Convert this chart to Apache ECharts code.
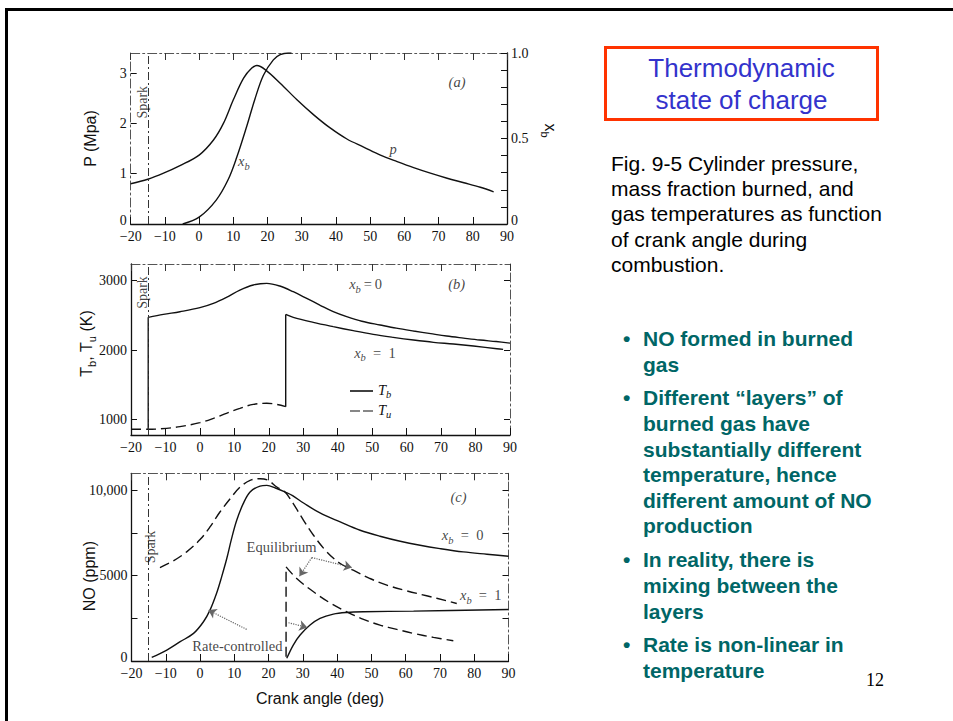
<!DOCTYPE html>
<html>
<head>
<meta charset="utf-8">
<title>NO formation – thermodynamic state of charge</title>
<script src="https://cdn.jsdelivr.net/npm/echarts@6.0.0/dist/echarts.min.js"></script>
<style>
  html, body { margin: 0; padding: 0; background: #fff; }
  #slide { position: relative; width: 953px; height: 721px; overflow: hidden; background: #fff;
           font-family: "Liberation Sans", Arial, sans-serif; }
  #chart { position: absolute; left: 0; top: 0; width: 953px; height: 721px; }
  .edge { position: absolute; left: 5px; top: 8px; width: 1000px; height: 800px;
          border-top: 3px solid #000; border-left: 3px solid #000; }
  .title { position: absolute; left: 604px; top: 46px; width: 269px; height: 66.5px; padding-top: 2.5px;
           border: 3px solid #ff3300; color: #3333cc; font-size: 26px; line-height: 32px; text-align: center; }
  .caption { position: absolute; left: 611px; top: 151px; font-size: 21px; line-height: 25.2px;
             color: #000; white-space: nowrap; }
  .bullets { position: absolute; left: 643px; top: 326px; font-size: 21px; font-weight: bold;
             line-height: 25.6px; color: #006666; white-space: nowrap; }
  .bullets p { margin: 0 0 8.3px 0; position: relative; }
  .bullets p::before { content: "\2022"; position: absolute; left: -20px; top: 0; }
  .pageno { position: absolute; right: 69px; top: 671px; line-height: 18px;
            font-family: "Liberation Serif", "Times New Roman", serif; font-size: 18px; color: #000; }
</style>
</head>
<body>
<div id="slide">
  <div id="chart"></div>
  <div class="edge"></div>
  <div class="title">Thermodynamic<br>state of charge</div>
  <div class="caption">Fig. 9-5 Cylinder pressure,<br>mass fraction burned, and<br>gas temperatures as function<br>of crank angle during<br>combustion.</div>
  <div class="bullets">
    <p>NO formed in burned<br>gas</p>
    <p>Different “layers” of<br>burned gas have<br>substantially different<br>temperature, hence<br>different amount of NO<br>production</p>
    <p>In reality, there is<br>mixing between the<br>layers</p>
    <p>Rate is non-linear in<br>temperature</p>
  </div>
  <div class="pageno">12</div>
</div>
<script>
// ---------------------------------------------------------------------------
// Crank angle (deg)
const angleTicks = [-20, -10, 0, 10, 20, 30, 40, 50, 60, 70, 80, 90];
const sparkAngle = -15;

// (a) cylinder pressure p (MPa)
const pAngle = [-20, -15, -10.4, -5.6, 0, 4.2, 7.1, 10, 13, 15.4, 16.9, 19.3, 23.7, 28.6,
                33.5, 38.3, 43.2, 48.1, 53, 57.9, 62.7, 67.6, 72.5, 77.4, 82.2, 86.1];
const pMpa   = [0.80, 0.89, 1.01, 1.16, 1.37, 1.67, 2.0, 2.47, 2.9, 3.1, 3.15, 3.07, 2.80, 2.47,
                2.17, 1.91, 1.69, 1.53, 1.37, 1.24, 1.12, 1.01, 0.91, 0.82, 0.73, 0.64];
const pTicks = [0, 1, 2, 3];

// (a) mass fraction burned x_b
const xbAngle = [-4.8, 0, 5, 8.5, 11, 13.9, 16.3, 18.8, 21.7, 23.7, 26, 27];
const xbValue = [0, 0.04, 0.14, 0.26, 0.39, 0.57, 0.73, 0.87, 0.96, 0.99, 1.0, 1.0];
const xbTicks = [0, 0.5, 1];
const xbTickMarks = [0, 0.1, 0.2, 0.3, 0.4, 0.5, 0.6, 0.7, 0.8, 0.9, 1];

// (b) unburned gas temperature T_u (K)
const tuAngle = [-20, -15, -9.7, -5.8, 0, 3.9, 7.7, 11.6, 15.5, 19.4, 22.3, 24.9];
const tuK     = [856, 856, 870, 894, 952, 1014, 1087, 1159, 1216, 1231, 1216, 1183];
// (b) burned gas temperature T_b of the element burned at spark (x_b = 0)
const tbFirstAngle = [-15, -10.6, -5.8, 0, 3.9, 7.7, 11.6, 15.5, 19.4, 23.2, 27.1, 31, 34.8,
                      38.7, 42.6, 47, 52.3, 57, 62, 67, 71.6, 76.5, 81.3, 86, 90];
const tbFirstK     = [2471, 2514, 2553, 2611, 2673, 2760, 2865, 2938, 2962, 2923, 2841, 2745, 2649,
                      2553, 2481, 2415, 2361, 2315, 2274, 2236, 2202, 2172, 2144, 2122, 2100];
// (b) burned gas temperature T_b of the last element burned (x_b = 1)
const tbLastAngle = [24.9, 27.1, 32.9, 38.7, 44.5, 50.3, 56.1, 62, 67.8, 73.6, 79.4, 86.2, 88];
const tbLastK     = [2514, 2471, 2399, 2337, 2279, 2226, 2183, 2144, 2111, 2087, 2058, 2019, 2010];
const tTicks = [1000, 2000, 3000];

// (c) NO, equilibrium, x_b = 0 (ppm)
const eqFirstAngle = [-11.7, -7.8, -3.9, 0, 2.9, 5.8, 8.8, 11.7, 14.6, 17.5, 19.9, 22.4, 24.8, 27.2,
                      30.2, 33.1, 37, 40.9, 44.7, 49.6, 54.5, 60.3, 66.1, 72, 74.9];
const eqFirstPpm   = [5478, 5867, 6394, 7115, 7856, 8733, 9513, 10195, 10585, 10682, 10585, 10195, 9903, 9220,
                      8246, 7368, 6394, 5712, 5322, 4834, 4444, 4113, 3821, 3528, 3372];
// (c) NO, equilibrium, x_b = 1 (ppm)
const eqLastAngle = [25.1, 25.1, 28.2, 33.1, 37.9, 42.8, 47.7, 52.5, 57.4, 62.3, 68.1, 73.9];
const eqLastPpm   = [250, 5517, 4834, 4055, 3411, 2885, 2437, 2105, 1852, 1618, 1384, 1189];
// (c) NO, rate-controlled, x_b = 0 (ppm)
const rcFirstAngle = [-14.1, -9.7, -5.8, -1.9, 1, 2.9, 4.8, 6.3, 7.8, 9.2, 10.7, 12.6, 14.6, 17.5,
                      19.5, 22, 24.8, 27, 30.2, 35, 40.9, 46.7, 52.5, 58.4, 64.2, 70, 76.8, 83.7, 90];
const rcFirstPpm   = [214, 643, 1131, 1618, 2300, 2982, 3957, 4932, 6004, 7173, 8246, 9220, 9903, 10253,
                      10292, 10140, 9903, 9690, 9259, 8674, 8148, 7661, 7310, 7018, 6784, 6589, 6394, 6257, 6140];
// (c) NO, rate-controlled, x_b = 1 (ppm)
const rcLastAngle = [25.3, 27.2, 29.2, 32.1, 35, 38.9, 42.8, 47.7, 62.3, 90];
const rcLastPpm   = [156, 936, 1520, 2105, 2495, 2749, 2846, 2885, 2924, 3021];
const noTicks = [0, 5000, 10000];
const noTickMarks = [0, 2500, 5000, 7500, 10000];

// ---------------------------------------------------------------------------
const SERIF = '"Liberation Serif", "Times New Roman", serif';
const SANS = '"Liberation Sans", Arial, sans-serif';
const INK = '#111';
const FAINT = '#555';
const DASHDOT = [9, 3, 2, 3];

const panels = [
  { left: 130.7, top: 53,    width: 376.3, height: 171,   yMin: 0,   yMax: 3.4 },
  { left: 131,   top: 264,   width: 379,   height: 171,   yMin: 774, yMax: 3241 },
  { left: 131.5, top: 473.3, width: 377,   height: 187.7, yMin: 0,   yMax: 11000 }
];

const RICH = {
  i:  { fontFamily: SERIF, fontStyle: 'italic', fontSize: 14.5, color: INK, lineHeight: 18, verticalAlign: 'bottom', padding: [0, 0, 3, 0] },
  s:  { fontFamily: SERIF, fontStyle: 'italic', fontSize: 10.5, color: INK, lineHeight: 18, verticalAlign: 'bottom' },
  r:  { fontFamily: SERIF, fontSize: 14.5, color: INK, lineHeight: 18, verticalAlign: 'bottom', padding: [0, 0, 3, 0] },
  t:  { fontFamily: SERIF, fontSize: 14.5, color: INK, lineHeight: 18 },
  sp: { fontFamily: SERIF, fontSize: 14, color: INK, lineHeight: 16 }
};
const NAME_RICH = {
  m: { fontFamily: SANS, fontSize: 16, color: INK, lineHeight: 20, verticalAlign: 'bottom', padding: [0, 0, 3, 0] },
  u: { fontFamily: SANS, fontSize: 11, color: INK, lineHeight: 20, verticalAlign: 'bottom' }
};
// tick label at the foot of a value axis sits a little above the axis line
const TICK_RICH = {
  z: { fontFamily: SERIF, fontSize: 14, color: INK, padding: [0, 0, 7, 0] }
};

const fmtAngle = v => (v < 0 ? '\u2212' + Math.abs(v) : String(v));
const pairs = (xs, ys) => xs.map((x, i) => [x, ys[i]]);

function lineStyleOf(kind) {
  if (kind === 'solid') return { color: INK, width: 1.3, type: 'solid' };
  return { color: FAINT, width: 1, type: DASHDOT };
}

function xAxesFor(g, withName) {
  const base = { type: 'value', gridIndex: g, min: -20, max: 90, interval: 10, splitLine: { show: false } };
  const bottom = Object.assign({}, base, {
    position: 'bottom',
    axisLine: { onZero: false, lineStyle: lineStyleOf('solid') },
    axisTick: { inside: true, length: 7, lineStyle: { color: INK, width: 1 } },
    axisLabel: { margin: 5, fontFamily: SERIF, fontSize: 14, color: INK, formatter: fmtAngle,
                 customValues: angleTicks }
  });
  if (withName) {
    Object.assign(bottom, {
      name: 'Crank angle (deg)', nameLocation: 'middle', nameGap: 29, nameMoveOverlap: false,
      nameTextStyle: { fontFamily: SANS, fontSize: 16, color: INK }
    });
  }
  const top = Object.assign({}, base, {
    position: 'top',
    axisLine: { onZero: false, lineStyle: lineStyleOf('dash') },
    axisTick: { inside: true, length: 7, lineStyle: { color: '#333', width: 1 } },
    axisLabel: { show: false }
  });
  return [bottom, top];
}

function yAxis(g, side, cfg) {
  const p = panels[g];
  const ax = {
    type: 'value', gridIndex: g, position: side,
    min: cfg.min !== undefined ? cfg.min : p.yMin,
    max: cfg.max !== undefined ? cfg.max : p.yMax,
    splitLine: { show: false },
    axisLine: { onZero: false, lineStyle: lineStyleOf(cfg.line) },
    axisTick: { inside: true, length: 6, lineStyle: { color: INK, width: 1 }, customValues: cfg.ticks },
    axisLabel: cfg.labels
      ? { margin: 4, fontFamily: SERIF, fontSize: 14, color: INK, customValues: cfg.labels,
          rich: TICK_RICH, formatter: cfg.format || (v => String(v)) }
      : { show: false }
  };
  if (cfg.name) {
    Object.assign(ax, {
      name: cfg.name, nameLocation: 'middle', nameGap: cfg.gap, nameRotate: cfg.rotate,
      nameMoveOverlap: false,
      nameTextStyle: { rich: NAME_RICH, padding: cfg.pad || 0 }
    });
  }
  return ax;
}

const xAxes = [].concat(xAxesFor(0, false), xAxesFor(1, false), xAxesFor(2, true));
const yAxes = [
  yAxis(0, 'left',  { line: 'dash', ticks: pTicks, labels: pTicks,
                      format: v => (v === 0 ? '{z|0}' : String(v)),
                      name: '{m|P (Mpa)}', gap: 29, rotate: 90 }),
  yAxis(0, 'right', { line: 'solid', min: 0, max: 1, ticks: xbTickMarks, labels: xbTicks,
                      format: v => (v === 1 ? '1.0' : v === 0 ? '{z|0}' : String(v)),
                      name: '{m|x}{u|b}', gap: 32, rotate: -90, pad: [0, 16, 0, 0] }),
  yAxis(1, 'left',  { line: 'solid', ticks: tTicks, labels: tTicks,
                      name: '{m|T}{u|b}{m|, T}{u|u}{m| (K)}', gap: 34, rotate: 90, pad: [0, 0, 0, 12] }),
  yAxis(1, 'right', { line: 'dash', ticks: tTicks }),
  yAxis(2, 'left',  { line: 'solid', ticks: noTickMarks, labels: noTicks,
                      format: v => (v === 10000 ? '10,000' : v === 0 ? '{z|0}' : String(v)),
                      name: '{m|NO (ppm)}', gap: 31, rotate: 90, pad: [0, 18, 0, 0] }),
  yAxis(2, 'right', { line: 'dash', ticks: noTickMarks })
];

// one drawn curve
function curve(name, xs, ys, g, opts) {
  opts = opts || {};
  return {
    type: 'line', name: name, xAxisIndex: 2 * g, yAxisIndex: 2 * g + (opts.right ? 1 : 0),
    data: pairs(xs, ys), symbol: 'none', showSymbol: false, silent: true, z: 3,
    smooth: opts.straight ? false : 0.35,
    lineStyle: { color: INK, width: 1.4, type: opts.dashed ? [10, 5] : 'solid' }
  };
}
// vertical jump (first two points, straight) followed by the smooth curve
function withJump(name, xs, ys, g, opts) {
  return [
    curve(name, xs.slice(0, 2), ys.slice(0, 2), g, Object.assign({}, opts, { straight: true })),
    curve(name, xs.slice(1), ys.slice(1), g, opts)
  ];
}
const sparkLine = {
  silent: true, symbol: ['none', 'none'], label: { show: false },
  lineStyle: { color: '#333', width: 1, type: [8, 3, 2, 3] },
  data: [{ xAxis: sparkAngle }]
};

// text placed at data coordinates
function notes(g, items, extra) {
  return Object.assign({
    type: 'scatter', xAxisIndex: 2 * g, yAxisIndex: 2 * g, symbolSize: 1, silent: true, z: 6,
    itemStyle: { color: 'rgba(0,0,0,0)' },
    label: { show: true, position: 'inside', color: INK, rich: RICH },
    data: items.map(n => ({ value: [n.x, n.y], label: { formatter: n.text, rotate: n.rotate || 0 } }))
  }, extra || {});
}

const tuAtSpark = tuK[tuAngle.indexOf(sparkAngle)];

const series = [
  // (a)
  Object.assign(curve('p', pAngle, pMpa, 0), { markLine: sparkLine }),
  curve('xb', xbAngle, xbValue, 0, { right: true }),
  notes(0, [
    { x: -16.5, y: 2.42, text: '{sp|Spark}', rotate: 90 },
    { x: 75.4, y: 2.80, text: '{i|(a)}' },
    { x: 56.7, y: 1.47, text: '{i|p}' },
    { x: 13.1, y: 1.22, text: '{i|x}{s|b}' }
  ]),
  // (b)
  Object.assign(curve('Tu', tuAngle, tuK, 1, { dashed: true }), { markLine: sparkLine }),
  curve('Tb', [sparkAngle, tbFirstAngle[0]], [tuAtSpark, tbFirstK[0]], 1, { straight: true }),
  curve('Tb', tbFirstAngle, tbFirstK, 1),
  curve('Tb', [tuAngle[tuAngle.length - 1], tbLastAngle[0]], [tuK[tuK.length - 1], tbLastK[0]], 1, { straight: true }),
  curve('Tb', tbLastAngle, tbLastK, 1),
  notes(1, [
    { x: -16.6, y: 2830, text: '{sp|Spark}', rotate: 90 },
    { x: 48.1, y: 2924, text: '{i|x}{s|b}{r|\u2009=\u20090}' },
    { x: 74.5, y: 2938, text: '{i|(b)}' },
    { x: 50.8, y: 1942, text: '{i|x}{s|b}{r|  =  1}' }
  ]),
  // (c)
  Object.assign(curve('eq0', eqFirstAngle, eqFirstPpm, 2, { dashed: true }), { markLine: sparkLine }),
  ...withJump('eq1', eqLastAngle, eqLastPpm, 2, { dashed: true }),
  curve('rc0', rcFirstAngle, rcFirstPpm, 2),
  curve('rc1', rcLastAngle, rcLastPpm, 2),
  notes(2, [
    { x: -14.4, y: 6681, text: '{sp|Spark}', rotate: 90 },
    { x: 75.4, y: 9494, text: '{i|(c)}' },
    { x: 76.6, y: 7285, text: '{i|x}{s|b}{r|  =  0}' },
    { x: 81.9, y: 3768, text: '{i|x}{s|b}{r|  =  1}' },
    { x: 23.8, y: 6652, text: '{t|Equilibrium}' },
    { x: 10.9, y: 889, text: '{t|Rate-controlled}' }
  ], {
    markLine: {
      silent: true, symbol: ['none', 'arrow'], symbolSize: 8, label: { show: false },
      lineStyle: { type: 'dotted', color: '#666', width: 1.2, curveness: 0.2 },
      data: [
        [{ coord: [32.6, 6062] }, { coord: [29.0, 4971] }],
        [{ coord: [32.6, 6062], lineStyle: { curveness: -0.12 } }, { coord: [44.3, 5478] }],
        [{ coord: [13.6, 1852], lineStyle: { curveness: -0.25 } }, { coord: [2.4, 2982] }],
        [{ coord: [25.8, 2242] }, { coord: [31.3, 1969] }]
      ]
    }
  })
];

const chart = echarts.init(document.getElementById('chart'), null, { renderer: 'svg' });
chart.setOption({
  animation: false,
  textStyle: { fontFamily: SERIF, color: INK },
  grid: panels.map(p => ({ left: p.left, top: p.top, width: p.width, height: p.height,
                           containLabel: false, outerBoundsMode: 'none' })),
  xAxis: xAxes,
  yAxis: yAxes,
  legend: {
    data: [
      { name: 'Tb', icon: 'rect' },
      { name: 'Tu', icon: 'path://M0,0H10V1H0ZM13,0H23V1H13Z' }
    ],
    orient: 'vertical', left: 345, top: 377,
    itemWidth: 23, itemHeight: 1.6, itemGap: 2, selectedMode: false,
    itemStyle: { color: INK, borderWidth: 0 },
    formatter: n => (n === 'Tb' ? '{i|T}{s|b}' : '{i|T}{s|u}'),
    textStyle: { rich: RICH }
  },
  series: series
});
</script>
</body>
</html>
